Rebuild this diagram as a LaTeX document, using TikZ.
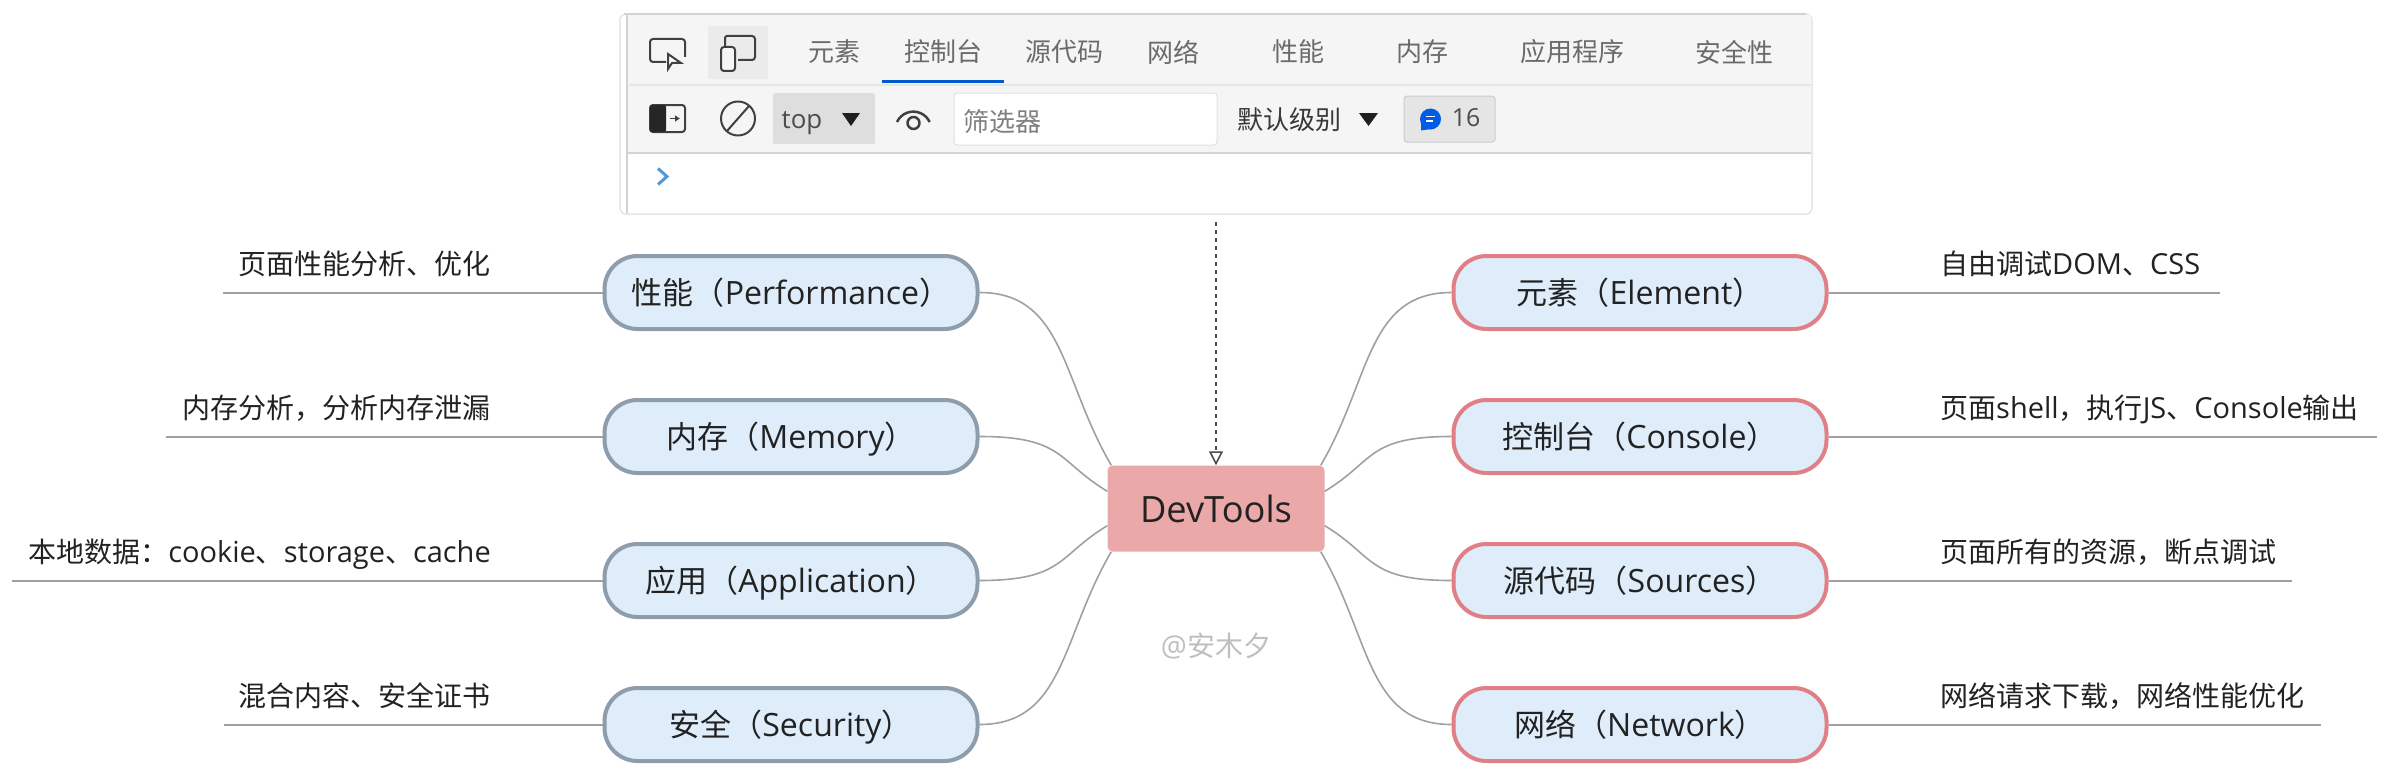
\documentclass[tikz,border=0pt]{standalone}
\usepackage{fontspec}
\usetikzlibrary{arrows.meta}
\setmainfont{Open Sans}[Scale=1.035]
\newfontfamily\cjk{Noto Sans CJK SC}
\definecolor{hubFill}{HTML}{EBA8A9}
\definecolor{pillFill}{HTML}{DEEDF9}
\definecolor{pillGrey}{HTML}{8D9DAC}
\definecolor{pillRed}{HTML}{E07F85}
\definecolor{lineGrey}{HTML}{9BA1A6}
\definecolor{barFill}{HTML}{F5F5F5}
\definecolor{inkDark}{HTML}{222222}
\begin{document}
\begin{tikzpicture}[x=1pt,y=1pt,
hub/.style={rectangle,rounded corners=5pt,fill=hubFill,minimum width=217pt,minimum height=86pt,inner sep=0pt,text=inkDark,font=\fontsize{35}{35}\selectfont},
pl/.style={rectangle,rounded corners=33pt,draw=pillGrey,line width=4pt,fill=pillFill,minimum width=373pt,minimum height=73pt,inner sep=0pt,text height=30pt,text depth=6pt,text=inkDark,font=\fontsize{31}{31}\selectfont},
pr/.style={pl,draw=pillRed},
e/.style={draw=lineGrey,line width=1.6pt},
b/.style={draw=lineGrey,line width=2pt},
t/.style={inner sep=0pt,text height=27pt,text depth=5pt,text=inkDark,font=\fontsize{28}{28}\selectfont},
tl/.style={t,anchor=east},
tr/.style={t,anchor=west},
tab/.style={inner sep=0pt,text=black!58,font=\cjk\fontsize{26}{26}\selectfont},
ic/.style={draw=black!75,line width=2pt,line join=round}]
\useasboundingbox (0,0) rectangle (2390,-768);

% console screenshot
\draw[draw=black!10,fill=white,line width=1.5pt,rounded corners=6pt] (620,-14) rectangle (1812,-214);
\fill[barFill] (627,-15) rectangle (1811,-153);
\draw[draw=black!18,line width=1.5pt] (627,-14) -- (627,-213);
\draw[draw=black!10,line width=1.5pt] (627,-85) -- (1811,-85);
\draw[draw=black!17,line width=1.5pt] (627,-153) -- (1811,-153);
\draw[draw=brown!35!black!22,line width=2pt] (624,-14) -- (1806,-14);
\fill[black!8,rounded corners=2pt] (708,-26) rectangle (768,-79);
\fill[black!13,rounded corners=2pt] (773,-93) rectangle (875,-144);
\draw[draw=black!12,fill=white,rounded corners=3pt,line width=1pt] (954,-93) rectangle (1217,-145);
\draw[draw=black!20,fill=black!10,rounded corners=3pt,line width=1pt] (1404,-96) rectangle (1495,-142);
\fill[blue!55!cyan!80!black,line width=3pt] (882,-79.5) rectangle (1004,-82.5);

\node[tab] (tabElement) at (834,-52) {元素};
\node[tab] (tabConsole) at (943,-52) {控制台};
\node[tab] (tabSources) at (1064,-52) {源代码};
\node[tab] (tabNetwork) at (1173,-52) {网络};
\node[tab] (tabPerf) at (1298,-52) {性能};
\node[tab] (tabMemory) at (1422,-52) {内存};
\node[tab] (tabApp) at (1572,-52) {应用程序};
\node[tab] (tabSecurity) at (1734,-52) {安全性};
\node[tab,font=\fontsize{25}{25}\selectfont,text=black!70] (ctxTop) at (802,-123) {top};
\node[tab,text=black!50] (filterBox) at (1002,-122) {筛选器};
\node[tab,text=black!78] (levelBox) at (1289,-120) {默认级别};
\node[tab,font=\fontsize{24}{24}\selectfont,text=black!70] (msgCount) at (1466,-118) {16};

% toolbar icons
\draw[ic,rounded corners=3pt] (666,-62) -- (650,-62) -- (650,-39) -- (685,-39) -- (685,-57);
\draw[ic,fill=white,line join=miter] (668,-54) -- (668,-69) -- (672,-63) -- (681,-63) -- cycle;
\draw[ic,rounded corners=3pt] (731,-36) -- (755,-36) -- (755,-60) -- (738,-60);
\draw[ic,rounded corners=2pt] (725,-48) -- (725,-36) -- (731,-36);
\draw[ic,fill=barFill,rounded corners=3pt] (721,-47) rectangle (735,-71);
\draw[ic,rounded corners=3pt] (650,-105) rectangle (685,-132);
\fill[black!85,rounded corners=2pt] (650,-105) rectangle (666,-132);
\draw[ic,-{Latex[length=5pt,width=7pt]},line width=1.5pt] (670,-118.5) -- (680,-118.5);
\draw[ic] (738,-118.5) circle (17pt);
\draw[ic] (727,-131) -- (749,-106);
\fill[black!88] (842,-113) -- (860,-113) -- (851,-126) -- cycle;
\fill[black!88] (1359,-113) -- (1378,-113) -- (1368.5,-126) -- cycle;
\draw[ic,line width=2.5pt] (897,-122) arc (155:25:18pt);
\draw[ic,line width=2.5pt] (913.5,-123) circle (6pt);
\fill[blue!60!cyan!90!black] (1430.5,-119) circle (10.5pt);
\fill[blue!60!cyan!90!black] (1421,-119) -- (1421,-130.5) -- (1431,-129) -- cycle;
\draw[white,line width=1.2pt] (1426,-116.5) -- (1435,-116.5) (1426,-121) -- (1433,-121);
\draw[draw=cyan!60!blue!70,line width=3pt] (658,-168.5) -- (667,-176.5) -- (658,-184.5);

% mind map
\node[hub] (devtools) at (1216,-508.5) {DevTools};
\node[pl] (perf) at (791,-292.5) {{\cjk 性能（}Performance{\cjk ）}};
\node[pl] (memory) at (791,-436.5) {{\cjk 内存（}Memory{\cjk ）}};
\node[pl] (app) at (791,-580.5) {{\cjk 应用（}Application{\cjk ）}};
\node[pl] (security) at (791,-724.5) {{\cjk 安全（}Security{\cjk ）}};
\node[pr] (element) at (1640,-292.5) {{\cjk 元素（}Element{\cjk ）}};
\node[pr] (console) at (1640,-436.5) {{\cjk 控制台（}Console{\cjk ）}};
\node[pr] (sources) at (1640,-580.5) {{\cjk 源代码（}Sources{\cjk ）}};
\node[pr] (network) at (1640,-724.5) {{\cjk 网络（}Network{\cjk ）}};

\node[tl] (perfText) at (491,-263) {\cjk 页面性能分析、优化};
\node[tl] (memoryText) at (491,-407) {\cjk 内存分析，分析内存泄漏};
\node[tl] (appText) at (491,-551) {{\cjk 本地数据：}cookie{\cjk 、}storage{\cjk 、}cache};
\node[tl] (securityText) at (491,-695) {\cjk 混合内容、安全证书};
\node[tr] (elementText) at (1940,-263) {{\cjk 自由调试}DOM{\cjk 、}CSS};
\node[tr] (consoleText) at (1940,-407) {{\cjk 页面}shell{\cjk ，执行}JS{\cjk 、}Console{\cjk 输出}};
\node[tr] (sourcesText) at (1940,-551) {\cjk 页面所有的资源，断点调试};
\node[tr] (networkText) at (1940,-695) {\cjk 网络请求下载，网络性能优化};
\node[t,text=black!25] (mark) at (1216,-645) {@{\cjk 安木夕}};

\coordinate (perfEnd) at (223,-292.5);
\coordinate (memoryEnd) at (166,-436.5);
\coordinate (appEnd) at (12,-580.5);
\coordinate (securityEnd) at (224,-724.5);
\coordinate (elementEnd) at (2220,-292.5);
\coordinate (consoleEnd) at (2377,-436.5);
\coordinate (sourcesEnd) at (2292,-580.5);
\coordinate (networkEnd) at (2321,-724.5);
\path[b] (perf) -- (perfEnd);
\path[b] (memory) -- (memoryEnd);
\path[b] (app) -- (appEnd);
\path[b] (security) -- (securityEnd);
\path[b] (element) -- (elementEnd);
\path[b] (console) -- (consoleEnd);
\path[b] (sources) -- (sourcesEnd);
\path[b] (network) -- (networkEnd);

\path[e] (perf.east) .. controls +(85,0) and +(-50,85) .. ([xshift=4pt] devtools.north west);
\path[e] (memory.east) .. controls +(85,0) and +(-50,30) .. ([yshift=-26pt] devtools.north west);
\path[e] (app.east) .. controls +(85,0) and +(-50,-30) .. ([yshift=26pt] devtools.south west);
\path[e] (security.east) .. controls +(85,0) and +(-50,-85) .. ([xshift=4pt] devtools.south west);
\path[e] (element.west) .. controls +(-85,0) and +(50,85) .. ([xshift=-4pt] devtools.north east);
\path[e] (console.west) .. controls +(-85,0) and +(50,30) .. ([yshift=-26pt] devtools.north east);
\path[e] (sources.west) .. controls +(-85,0) and +(50,-30) .. ([yshift=26pt] devtools.south east);
\path[e] (network.west) .. controls +(-85,0) and +(50,-85) .. ([xshift=-4pt] devtools.south east);

\coordinate (shotEnd) at (1216,-222);
\draw[draw=black!70,line width=2pt,dash pattern=on 4pt off 4pt,-{Triangle[open,length=14pt,width=14pt,fill=white,line width=1.6pt]}] (shotEnd) -- (devtools.north);

\end{tikzpicture}
\end{document}
